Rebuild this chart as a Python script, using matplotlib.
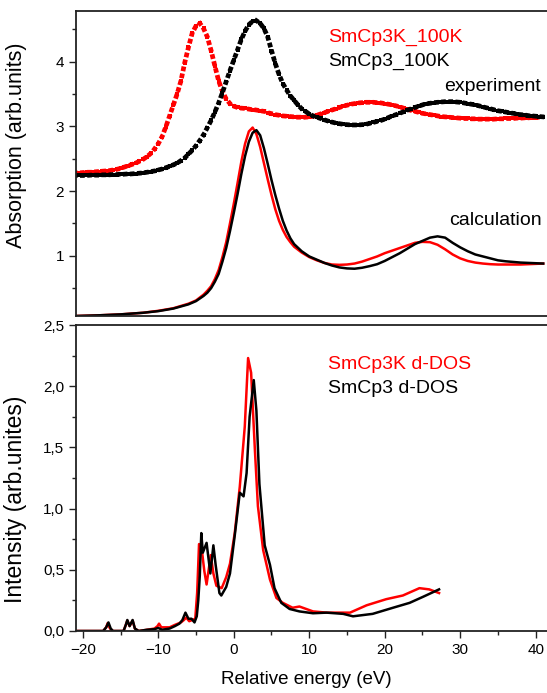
import numpy as np
import matplotlib
matplotlib.use("Agg")
import matplotlib.pyplot as plt
from matplotlib.ticker import MultipleLocator, FuncFormatter

plt.rcParams['font.family'] = ['Liberation Sans', 'DejaVu Sans']

# --- experiment (XAS, 100 K), sampled every 0.5 eV from -21 to 41 eV
exp_energy = np.arange(-21, 41.25, 0.5)
exp_smcp3k = [
    2.28, 2.28, 2.285, 2.29, 2.29, 2.295, 2.30, 2.305, 2.31, 2.315,
    2.325, 2.335, 2.35, 2.37, 2.39, 2.41, 2.43, 2.46, 2.49, 2.53,
    2.58, 2.65, 2.73, 2.84, 2.99, 3.16, 3.33, 3.50, 3.70, 3.98,
    4.22, 4.44, 4.55, 4.59, 4.51, 4.38, 4.17, 3.93, 3.70, 3.54,
    3.42, 3.35, 3.31, 3.29, 3.28, 3.275, 3.265, 3.255, 3.25, 3.24,
    3.23, 3.21, 3.195, 3.18, 3.17, 3.16, 3.155, 3.15, 3.145, 3.14,
    3.14, 3.14, 3.145, 3.155, 3.17, 3.19, 3.21, 3.23, 3.25, 3.27,
    3.29, 3.31, 3.325, 3.34, 3.35, 3.36, 3.365, 3.37, 3.37, 3.37,
    3.365, 3.36, 3.35, 3.34, 3.33, 3.315, 3.30, 3.28, 3.26, 3.245,
    3.23, 3.215, 3.20, 3.19, 3.18, 3.17, 3.16, 3.15, 3.145, 3.14,
    3.135, 3.13, 3.125, 3.12, 3.12, 3.115, 3.115, 3.11, 3.11, 3.11,
    3.11, 3.11, 3.115, 3.115, 3.12, 3.12, 3.12, 3.125, 3.125, 3.13,
    3.13, 3.135, 3.135, 3.14, 3.14]
exp_smcp3 = [
    2.24, 2.24, 2.24, 2.24, 2.245, 2.245, 2.245, 2.25, 2.25, 2.25,
    2.255, 2.255, 2.26, 2.26, 2.265, 2.265, 2.27, 2.275, 2.28, 2.29,
    2.30, 2.31, 2.325, 2.34, 2.36, 2.38, 2.405, 2.43, 2.47, 2.51,
    2.57, 2.63, 2.70, 2.78, 2.87, 2.98, 3.09, 3.22, 3.36, 3.52,
    3.69, 3.86, 4.02, 4.18, 4.34, 4.47, 4.57, 4.62, 4.63, 4.59,
    4.51, 4.38, 4.17, 3.97, 3.80, 3.66, 3.56, 3.47, 3.40, 3.33,
    3.27, 3.23, 3.19, 3.16, 3.14, 3.12, 3.10, 3.08, 3.065, 3.05,
    3.04, 3.03, 3.025, 3.02, 3.02, 3.02, 3.025, 3.03, 3.045, 3.06,
    3.075, 3.09, 3.11, 3.135, 3.16, 3.18, 3.20, 3.225, 3.25, 3.27,
    3.29, 3.31, 3.33, 3.345, 3.355, 3.365, 3.37, 3.375, 3.38, 3.38,
    3.38, 3.375, 3.37, 3.36, 3.35, 3.34, 3.33, 3.315, 3.30, 3.285,
    3.27, 3.255, 3.24, 3.23, 3.22, 3.21, 3.20, 3.19, 3.18, 3.175,
    3.165, 3.16, 3.155, 3.15, 3.145]

# --- calculation
calc_energy = [-21, -18, -15, -12, -10, -8, -6, -5, -4, -3.5, -3, -2.5, -2, -1.5, -1, -0.5,
               0, 0.5, 1, 1.5, 2, 2.5, 3, 3.5, 4, 4.5, 5, 5.5, 6, 6.5, 7, 7.5, 8,
               9, 10, 11, 12, 13, 14, 15, 16, 17, 18, 19, 20, 21, 22, 23, 24, 25,
               26, 27, 28, 29, 30, 31, 32, 33, 34, 35, 36, 37, 38, 39, 40, 41]
calc_smcp3k = [0.07, 0.08, 0.095, 0.12, 0.15, 0.19, 0.26, 0.31, 0.40, 0.46, 0.53, 0.64, 0.78, 0.98, 1.21, 1.50,
               1.80, 2.12, 2.45, 2.73, 2.92, 2.98, 2.88, 2.68, 2.43, 2.18, 1.94, 1.72, 1.54, 1.40, 1.29, 1.21, 1.14,
               1.05, 0.98, 0.93, 0.89, 0.865, 0.86, 0.865, 0.88, 0.91, 0.95, 0.99, 1.04, 1.08, 1.12, 1.16, 1.20, 1.215,
               1.21, 1.17, 1.10, 1.02, 0.96, 0.92, 0.895, 0.88, 0.87, 0.865, 0.865, 0.865, 0.865, 0.87, 0.875, 0.88]
calc_smcp3 = [0.07, 0.08, 0.095, 0.12, 0.145, 0.185, 0.25, 0.30, 0.38, 0.43, 0.50, 0.60, 0.72, 0.91, 1.12, 1.38,
              1.66, 1.95, 2.26, 2.54, 2.76, 2.90, 2.94, 2.86, 2.66, 2.42, 2.17, 1.94, 1.73, 1.54, 1.39, 1.27, 1.18,
              1.07, 0.99, 0.94, 0.89, 0.85, 0.82, 0.805, 0.80, 0.815, 0.84, 0.87, 0.92, 0.98, 1.04, 1.11, 1.18, 1.23,
              1.28, 1.30, 1.28, 1.20, 1.13, 1.07, 1.02, 0.99, 0.96, 0.93, 0.915, 0.905, 0.895, 0.89, 0.885, 0.88]

# --- d-DOS
dos_k_energy = [-21, -17.3, -16.9, -16.7, -16.4, -16.0, -14.6, -14.3, -14.1, -13.8, -13.4, -13.1, -12.6,
                -11.5, -10.5, -10.1, -9.9, -9.6, -8.5, -7.8, -7.0, -6.6, -6.3, -5.9, -5.5, -5.1, -4.85,
                -4.6, -4.3, -3.9, -3.6, -3.3, -3.05, -2.7, -2.3, -1.6, -1.0, -0.5, 0.13, 0.8, 1.46, 1.9,
                2.3, 2.8, 3.2, 3.9, 4.8, 5.65, 6.5, 7.8, 8.7, 10.5, 12.3, 15.4, 17.6, 20.2, 22.4, 24.6,
                25.9, 27.2]
dos_k = [0, 0, 0.03, 0.065, 0.02, 0, 0, 0.05, 0.085, 0.04, 0.085, 0.02, 0.0,
         0.01, 0.02, 0.04, 0.06, 0.03, 0.03, 0.05, 0.07, 0.09, 0.11, 0.08, 0.09, 0.10, 0.31,
         0.71, 0.70, 0.49, 0.38, 0.51, 0.62, 0.47, 0.37, 0.35, 0.44, 0.55, 0.80, 1.18, 1.67, 2.23,
         2.11, 1.48, 1.02, 0.66, 0.42, 0.27, 0.23, 0.19, 0.20, 0.16, 0.15, 0.15, 0.21, 0.26, 0.29, 0.35,
         0.34, 0.31]
dos_energy = [-21, -17.3, -16.9, -16.6, -16.3, -16.0, -14.6, -14.3, -14.1, -13.8, -13.4, -13.1, -12.6,
              -11.5, -10.5, -10.0, -9.5, -8.5, -7.8, -7.2, -6.8, -6.4, -6.0, -5.6, -5.2, -4.9, -4.7,
              -4.5, -4.3, -4.1, -3.6, -3.1, -2.7, -2.4, -1.9, -1.65, -1.0, -0.5, 0.13, 0.8, 1.3, 1.7,
              2.1, 2.65, 3.0, 3.4, 4.1, 4.8, 5.4, 6.3, 7.4, 8.7, 10.5, 12.3, 14.5, 15.8, 18.4, 21.1,
              23.3, 25.1, 27.2]
dos = [0, 0, 0.03, 0.07, 0.02, 0, 0, 0.05, 0.09, 0.04, 0.09, 0.02, 0.0,
       0.01, 0.015, 0.025, 0.01, 0.02, 0.04, 0.06, 0.09, 0.15, 0.10, 0.10, 0.07, 0.12, 0.25,
       0.45, 0.80, 0.64, 0.72, 0.47, 0.70, 0.54, 0.31, 0.29, 0.36, 0.47, 0.78, 1.13, 1.10, 1.29,
       1.75, 2.05, 1.80, 1.20, 0.70, 0.54, 0.35, 0.23, 0.18, 0.16, 0.145, 0.15, 0.14, 0.12, 0.14, 0.19,
       0.23, 0.28, 0.34]

RED = '#ff0000'
BLK = '#000000'

fig = plt.figure(figsize=(5.47, 6.93), dpi=100)
ax1 = fig.add_axes([76 / 547, 1 - 316 / 693, 1 - 76 / 547, 305 / 693])
ax2 = fig.add_axes([76 / 547, 1 - 631 / 693, 1 - 76 / 547, 306 / 693])

# top: absorption -- square symbols; dotted square line keeps the steep parts dense
for yv, col in ((exp_smcp3k, RED), (exp_smcp3, BLK)):
    ax1.plot(exp_energy, yv, 's', color=col, ms=3.4, mew=0)
    ax1.plot(exp_energy, yv, color=col, lw=3.4, linestyle=(0, (0.01, 1.5)),
             dash_capstyle='projecting')
ax1.plot(calc_energy, calc_smcp3k, color=RED, lw=1.8)
ax1.plot(calc_energy, calc_smcp3, color=BLK, lw=1.8)

ax1.text(12.45, 4.37, 'SmCp3K_100K', color=RED, fontsize=14, va='center', ha='left')
ax1.text(12.45, 4.0, 'SmCp3_100K', color=BLK, fontsize=14, va='center', ha='left')
ax1.text(40.75, 3.61, 'experiment', fontsize=14, va='center', ha='right')
ax1.text(40.75, 1.55, 'calculation', fontsize=14, va='center', ha='right')

ax1.set_xlim(-20.9, 41.5)
ax1.set_ylim(0.07, 4.78)
ax1.yaxis.set_major_locator(MultipleLocator(1))
ax1.yaxis.set_minor_locator(MultipleLocator(0.5))
ax1.set_xticks([])
ax1.set_ylabel('Absorption (arb.units)', fontsize=15.5)
ax1.yaxis.set_label_coords(-0.104, 0.56)

# bottom: d-DOS
ax2.plot(dos_k_energy, dos_k, color=RED, lw=1.8)
ax2.plot(dos_energy, dos, color=BLK, lw=1.8)
ax2.text(12.45, 2.18, 'SmCp3K d-DOS', color=RED, fontsize=14, va='center', ha='left')
ax2.text(12.45, 1.985, 'SmCp3 d-DOS', color=BLK, fontsize=14, va='center', ha='left')

ax2.set_xlim(-20.9, 41.5)
ax2.set_ylim(0, 2.5)
ax2.xaxis.set_major_locator(MultipleLocator(10))
ax2.xaxis.set_minor_locator(MultipleLocator(5))
ax2.yaxis.set_major_locator(MultipleLocator(0.5))
ax2.yaxis.set_minor_locator(MultipleLocator(0.25))
ax2.yaxis.set_major_formatter(FuncFormatter(lambda v, p: f'{v:.1f}'.replace('.', ',')))
ax2.set_xlabel('Relative energy (eV)', fontsize=13.5)
ax2.xaxis.set_label_coords(0.488, -0.13)
ax2.set_ylabel('Intensity (arb.unites)', fontsize=16.5)
ax2.yaxis.set_label_coords(-0.104, 0.43)

for ax in (ax1, ax2):
    for s in ax.spines.values():
        s.set_linewidth(1.3)
        s.set_color('#222222')
    ax.spines['right'].set_visible(False)
    ax.tick_params(which='major', direction='out', length=5, width=1, labelsize=11, color='#222222')
    ax.tick_params(which='minor', direction='out', length=3, width=1, color='#222222')

fig.savefig('out.png', dpi=100)
